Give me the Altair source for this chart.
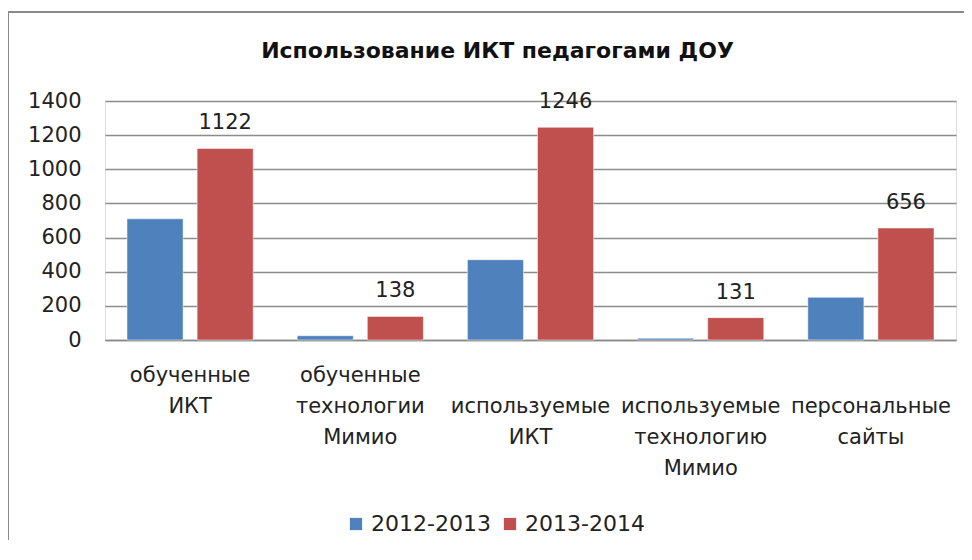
import altair as alt
import pandas as pd

categories = [
    "обученные\nИКТ",
    "обученные\nтехнологии\nМимио",
    " \nиспользуемые\nИКТ",
    " \nиспользуемые\nтехнологию\nМимио",
    " \nперсональные\nсайты",
]
series = ["2012-2013", "2013-2014"]
values_2012 = [710, 25, 470, 10, 250]
values_2013 = [1122, 138, 1246, 131, 656]
y_ticks = [0, 200, 400, 600, 800, 1000, 1200, 1400]

rows = []
for c, a, b in zip(categories, values_2012, values_2013):
    rows.append({"cat": c, "series": series[0], "value": a})
    rows.append({"cat": c, "series": series[1], "value": b})
df = pd.DataFrame(rows)

FONT = "DejaVu Sans"
FS = 21

x_enc = alt.X("cat:N", sort=categories, title=None,
              scale=alt.Scale(paddingInner=0, paddingOuter=0),
              axis=alt.Axis(labelAngle=0, labelExpr="split(datum.label, '\\n')",
                            labelFontSize=FS, labelLineHeight=31, labelPadding=24,
                            labelBaseline="top",
                            ticks=False, domain=True, domainColor="#888888",
                            domainWidth=1.5, grid=False, labelColor="#222222",
                            labelFont=FONT, labelLimit=300, labelOverlap=False))
y_enc = alt.Y("value:Q", title=None,
              scale=alt.Scale(domain=[0, 1400]),
              axis=alt.Axis(values=y_ticks, format="d", labelOverlap=False,
                            labelFontSize=FS, labelFont=FONT, labelColor="#222222",
                            labelPadding=24,
                            ticks=False, domain=False, gridColor="#8c8c8c",
                            gridWidth=1.5))

bars = alt.Chart(df).mark_bar(stroke="white", strokeWidth=0.5).encode(
    x=x_enc,
    y=y_enc,
    xOffset=alt.XOffset("series:N", sort=series,
                        scale=alt.Scale(paddingInner=0.2, paddingOuter=0.314)),
    color=alt.Color("series:N", sort=series,
                    scale=alt.Scale(domain=series, range=["#4F81BD", "#C0504D"]),
                    legend=alt.Legend(title=None, orient="none", direction="horizontal",
                                      legendX=240, legendY=412,
                                      symbolType="square", symbolSize=150,
                                      symbolStrokeWidth=0,
                                      labelFontSize=FS + 1, labelFont=FONT,
                                      labelColor="#222222", columnPadding=8,
                                      labelOffset=4)),
)

labels = alt.Chart(df).transform_filter(
    alt.datum.series == "2013-2014"
).mark_text(baseline="alphabetic", dy=-19, fontSize=FS, font=FONT, color="#222222").encode(
    x=x_enc,
    xOffset=alt.XOffset("series:N", sort=series,
                        scale=alt.Scale(paddingInner=0.2, paddingOuter=0.314)),
    y=y_enc,
    text=alt.Text("value:Q"),
)

border_left = alt.Chart(df).mark_rule(color="#8a8a8a", strokeWidth=2).encode(
    x=alt.value(-97), y=alt.value(-89), y2=alt.value(470)
)
border_top = alt.Chart(df).mark_rule(color="#8a8a8a", strokeWidth=2).encode(
    x=alt.value(-97), x2=alt.value(870), y=alt.value(-89)
)

chart = alt.layer(bars, labels, border_left, border_top).properties(
    width=851, height=239,
    autosize=alt.AutoSizeParams(type="none"),
    padding={"left": 97, "top": 93, "right": 8, "bottom": 200},
    title=alt.TitleParams("Использование ИКТ педагогами ДОУ", font=FONT,
                          fontSize=22, fontWeight="bold", color="#111111",
                          anchor="middle", dx=-33, offset=0, dy=74,
                          baseline="bottom"),
).configure_view(stroke=None).configure(background="white")

chart.save("out.html", embed_options={"renderer": "svg", "actions": False})
